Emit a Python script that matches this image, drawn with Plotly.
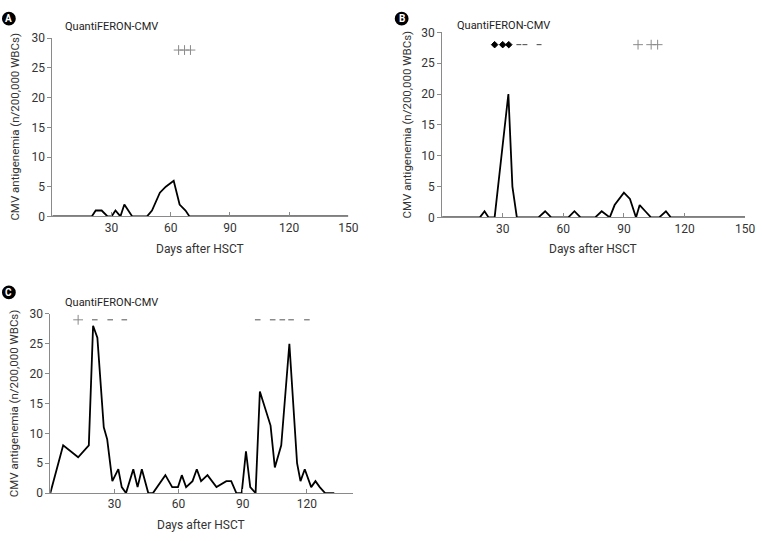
import plotly.graph_objects as go

# Panel A: CMV antigenemia by day after HSCT
a_days = [0, 20, 22, 25, 28, 30, 32, 34.5, 36.5, 40.5, 48, 50.5, 54.5, 57.5, 61.5, 64.5, 67.5, 69.5, 150]
a_vals = [0, 0, 1, 1, 0, 0, 1, 0, 2, 0, 0, 1, 4, 5, 6, 2, 1, 0, 0]
a_plus_days = [64, 67, 70]

# Panel B
b_days = [0, 18.7, 21, 23, 26, 32.8, 34.8, 37, 47.7, 51, 54, 62.5, 65.5, 68.5, 75.8, 79, 83,
          85.4, 90, 93, 96, 97.8, 100.6, 103.4, 107.5, 110.8, 113.2, 150]
b_vals = [0, 0, 1, 0, 0, 20, 5, 0, 0, 1, 0, 0, 1, 0, 0, 1, 0,
          2, 4, 3, 0, 2, 1, 0, 0, 1, 0, 0]
b_diamond_days = [26, 30, 33]
b_minus_days = [38, 41, 48]
b_plus_days = [97, 103.5, 106.7]

# Panel C
c_days = [0, 6, 13, 18, 20, 22, 25, 26.6, 29, 31.8, 33.4, 35.4, 38.8, 40.8, 42.8, 45.8, 48,
          53.8, 57, 59.7, 61.5, 63.5, 66.5, 68.5, 70.5, 73.5, 77.7, 82.3, 84.6, 87, 89.5,
          91.5, 93.5, 96, 98, 103, 105, 108, 111.8, 115.4, 117, 119, 122, 124, 126, 128.5, 132.8]
c_vals = [0, 8, 6, 8, 28, 26, 11, 9, 2, 4, 1, 0, 4, 1, 4, 0, 0,
          3, 1, 1, 3, 1, 2, 4, 2, 3, 1, 2, 2, 0, 0,
          7, 1, 0, 17, 11.3, 4.3, 8, 25, 5, 2, 4, 1, 2, 1, 0, 0]
c_plus_days = [13]
c_minus_days = [20.8, 28, 34.6, 97, 104, 108.5, 112.6, 120]

FONT = "Roboto, sans-serif"
GRAY = "#8a8a8a"
TXT = "#333333"

fig = go.Figure()

def line(x, y, ax):
    fig.add_trace(go.Scatter(x=x, y=y, mode="lines", line=dict(color="black", width=1.8),
                             xaxis="x" + ax, yaxis="y" + ax, showlegend=False, hoverinfo="skip"))

def marks(x, yv, ax, symbol, color, size):
    fig.add_trace(go.Scatter(x=x, y=[yv] * len(x), mode="markers",
                             marker=dict(symbol=symbol, size=size, color=color,
                                         line=dict(color=color, width=1)),
                             xaxis="x" + ax, yaxis="y" + ax, showlegend=False, hoverinfo="skip"))

line(a_days, a_vals, "")
marks(a_plus_days, 28, "", "cross-thin-open", GRAY, 7)

line(b_days, b_vals, "2")
marks(b_diamond_days, 28, "2", "diamond", "black", 5)
marks(b_minus_days, 28, "2", "line-ew-open", "#444444", 3.5)
marks(b_plus_days, 28, "2", "cross-thin-open", GRAY, 7)

line(c_days, c_vals, "3")
marks(c_plus_days, 29, "3", "cross-thin-open", GRAY, 7)
marks(c_minus_days, 29, "3", "line-ew-open", "#555555", 4)

W, H = 762, 541

def px(v):
    return v / W

def py(v):
    return 1 - v / H

def xax(l, r, tv, rng, anchor):
    return dict(domain=[px(l), px(r)], range=rng, tickvals=tv, ticks="inside", ticklen=4,
                tickcolor=GRAY, showline=True, linecolor=GRAY, linewidth=1, showgrid=False,
                zeroline=False, anchor=anchor, tickfont=dict(family=FONT, size=12, color=TXT))

def yax(t, b, anchor):
    return dict(domain=[py(b), py(t)], range=[0, 30], tickvals=list(range(0, 31, 5)),
                ticks="outside", ticklen=4, tickcolor=GRAY, showline=True, linecolor=GRAY,
                linewidth=1, showgrid=False, zeroline=False, anchor=anchor,
                tickfont=dict(family=FONT, size=12, color=TXT))

ticks5 = [30, 60, 90, 120, 150]
fig.update_layout(
    width=W, height=H, margin=dict(l=0, r=0, t=0, b=0),
    paper_bgcolor="white", plot_bgcolor="white",
    xaxis=xax(53, 353, ticks5, [0, 150], "y"),
    yaxis=yax(32, 215, "x"),
    xaxis2=xax(448, 755, ticks5, [0, 150], "y2"),
    yaxis2=yax(26, 216, "x2"),
    xaxis3=xax(51, 358, [30, 60, 90, 120], [0, 141.7], "y3"),
    yaxis3=yax(315, 499, "x3"),
)

ann = []
def text(x, y, s, size=11, angle=0, xanchor="center", color=TXT):
    ann.append(dict(x=px(x), y=py(y), xref="paper", yref="paper", text=s, showarrow=False,
                    xanchor=xanchor, yanchor="middle", textangle=angle,
                    font=dict(family=FONT, size=size, color=color)))

ytitle = "CMV antigenemia (n/200,000 WBCs)"
for tx, ty, bx, cy, xc, xy in [(64, 20, 15, 123, 203, 248), (461, 19, 412, 121, 601, 248),
                                (64, 303, 15, 407, 204, 532)]:
    text(tx, ty, "QuantiFERON-CMV", 11, xanchor="left", color="#222222")
    text(bx, cy, ytitle, 11.5, angle=-90)
    text(xc, xy, "Days after HSCT", 12)

shapes = []
for cx, cy, letter in [(9, 12, "A"), (407, 12, "B"), (9, 293, "C")]:
    shapes.append(dict(type="circle", xref="paper", yref="paper",
                       x0=px(cx - 7), x1=px(cx + 7), y0=py(cy + 7), y1=py(cy - 7),
                       fillcolor="black", line=dict(color="black", width=0)))
    text(cx, cy, "<b>%s</b>" % letter, 10, color="white")

fig.update_layout(annotations=ann, shapes=shapes)
# drop the default body margin so the figure sits at the page's top-left corner
fig.write_html("out.html", config={"displayModeBar": False},
               post_script="document.body.style.margin='0';")
